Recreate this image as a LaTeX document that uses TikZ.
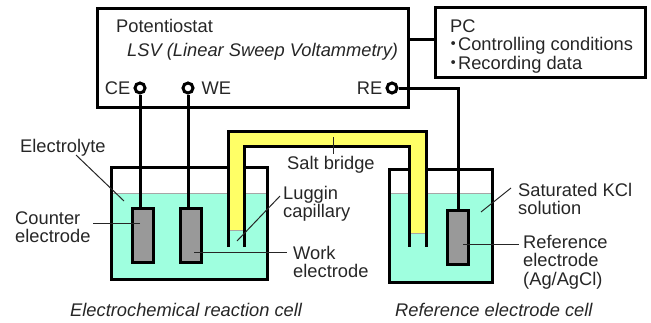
\documentclass[tikz,border=0pt]{standalone}
\usepackage{fontspec}
\setmainfont{Liberation Sans}
\newfontfamily\cjk{Noto Sans CJK JP}
\usetikzlibrary{positioning}
\definecolor{ink}{gray}{0.15}
\definecolor{water}{HTML}{9FFFDF}
\definecolor{bridge}{HTML}{FFFF66}
\definecolor{rod}{gray}{0.6}
\tikzset{
  lbl/.style={anchor=west, inner sep=0pt, text height=15pt, text depth=2pt, text=ink, font=\fontsize{18.3}{18}\selectfont},
  under/.style={below=1pt of #1.south west, anchor=north west},
  caption/.style={lbl, font=\fontsize{18.3}{18}\selectfont\itshape},
  term/.style={circle, draw, line width=3pt, fill=white, minimum size=10pt, inner sep=0pt},
  rodbox/.style={rectangle, draw, line width=3pt, fill=rod, minimum width=21pt, minimum height=54pt, inner sep=0pt},
  panel/.style={rectangle, draw, line width=3pt, inner sep=0pt},
  wire/.style={line width=3pt},
  leader/.style={line width=1pt, draw=ink}
}
\begin{document}
\begin{tikzpicture}[x=1pt, y=-1pt]
  \useasboundingbox (0,0) rectangle (651,322);

  % solutions
  \fill[water] (112,193) rectangle (266,278);
  \fill[water] (391,193) rectangle (493,281);
  \draw[line width=0.8pt, gray!70] (112,193) -- (266,193);
  \draw[line width=0.8pt, gray!70] (391,193) -- (493,193);

  % instruments
  \node (Potentiostat) [panel, minimum width=311pt, minimum height=99pt] at (253,57.5) {};
  \node (PC) [panel, minimum width=210pt, minimum height=70pt] at (540,42) {};
  \draw[wire] (Potentiostat.east |- 0,39) -- (PC.west |- 0,39);

  \node (CE) [term] at (140,88) {};
  \node (WE) [term, node distance=48pt, right of=CE] {};
  \node (RE) [term, node distance=252pt, right of=CE] {};

  % cells
  \node (ReactionCell) [panel, minimum width=156pt, minimum height=112pt] at (189,223) {};
  \node (ReferenceCell) [panel, minimum width=103pt, minimum height=113pt] at (440.5,225.5) {};

  \node (Counter) [rodbox] at (143,235.5) {};
  \node (Work) [rodbox, node distance=48pt, right of=Counter] {};
  \node (Reference) [rodbox] at (458,237.5) {};

  % salt bridge
  \coordinate (LegA) at (228,247);
  \coordinate (LegB) at (244,247);
  \coordinate (LegC) at (409,247);
  \coordinate (LegD) at (426,247);
  \coordinate (OuterA) at (228,131);
  \coordinate (OuterD) at (426,131);
  \coordinate (InnerB) at (244,146);
  \coordinate (InnerC) at (409,146);
  \fill[bridge] (228,230) -- (OuterA) -- (OuterD) -- (426,233) -- (409,233) -- (InnerC) -- (InnerB) -- (244,230) -- cycle;
  \draw[line width=0.8pt, gray!70] (228,230) -- (244,230);
  \draw[line width=0.8pt, gray!70] (409,233) -- (426,233);
  \draw[wire] (LegA) -- (OuterA) -- (OuterD) -- (LegD);
  \draw[wire] (LegB) -- (InnerB) -- (InnerC) -- (LegC);

  % wires
  \draw[wire] (CE) -- (CE |- Counter.north);
  \draw[wire] (WE) -- (WE |- Work.north);
  \draw[wire] (RE) -| (Reference.north);

  % texts
  \node (Title) [lbl] at (116,26) {Potentiostat};
  \node (Mode) [caption] at (127,50) {LSV (Linear Sweep Voltammetry)};
  \node (CEtext) [lbl, left=3pt of CE] {CE};
  \node (WEtext) [lbl, right=7pt of WE] {WE};
  \node (REtext) [lbl, left=3pt of RE] {RE};

  \node (PCtext) [lbl] at (450,26) {PC};
  \node (Control) [lbl] at (444,44) {{\cjk ・}\hspace{-4.4pt}Controlling conditions};
  \node (Record) [lbl] at (444,63) {{\cjk ・}\hspace{-4.4pt}Recording data};

  \node (Electrolyte) [lbl] at (20,146) {Electrolyte};
  \node (CounterA) [lbl] at (15,218) {Counter};
  \node (CounterB) [lbl, under=CounterA] {electrode};
  \node (Salt) [lbl] at (287,163) {Salt bridge};
  \node (LugginA) [lbl] at (283,193) {Luggin};
  \node (LugginB) [lbl, under=LugginA] {capillary};
  \node (WorkA) [lbl] at (293,253) {Work};
  \node (WorkB) [lbl, under=WorkA] {electrode};
  \node (SatA) [lbl] at (518,190) {Saturated KCl};
  \node (SatB) [lbl, under=SatA] {solution};
  \node (RefA) [lbl] at (523,242) {Reference};
  \node (RefB) [lbl, under=RefA] {electrode};
  \node (RefC) [lbl, under=RefB] {(Ag/AgCl)};
  \node (ReactionCap) [caption] at (70,310) {Electrochemical reaction cell};
  \node (ReferenceCap) [caption] at (395,310) {Reference electrode cell};

  % leaders
  \coordinate (ElectrolyteEnd) at (124,201);
  \coordinate (CounterEnd) at (140,223);
  \coordinate (WorkEnd) at (194,252);
  \coordinate (LugginEnd) at (237,241);
  \coordinate (SaltEnd) at (333,137);
  \coordinate (SatEnd) at (481,212);
  \coordinate (RefEnd) at (463,244);
  \draw[leader] (76,155) -- (ElectrolyteEnd);
  \draw[leader] (CounterEnd) -- (93,223);
  \draw[leader, shorten >=6pt] (WorkEnd) -- (WorkA.west |- WorkEnd);
  \draw[leader] (LugginEnd) -- (280,196);
  \draw[leader] (SaltEnd) -- (SaltEnd |- Salt.north);
  \draw[leader] (SatEnd) -- (511,188);
  \draw[leader, shorten >=4pt] (RefEnd) -- (RefA.west |- RefEnd);
\end{tikzpicture}
\end{document}
